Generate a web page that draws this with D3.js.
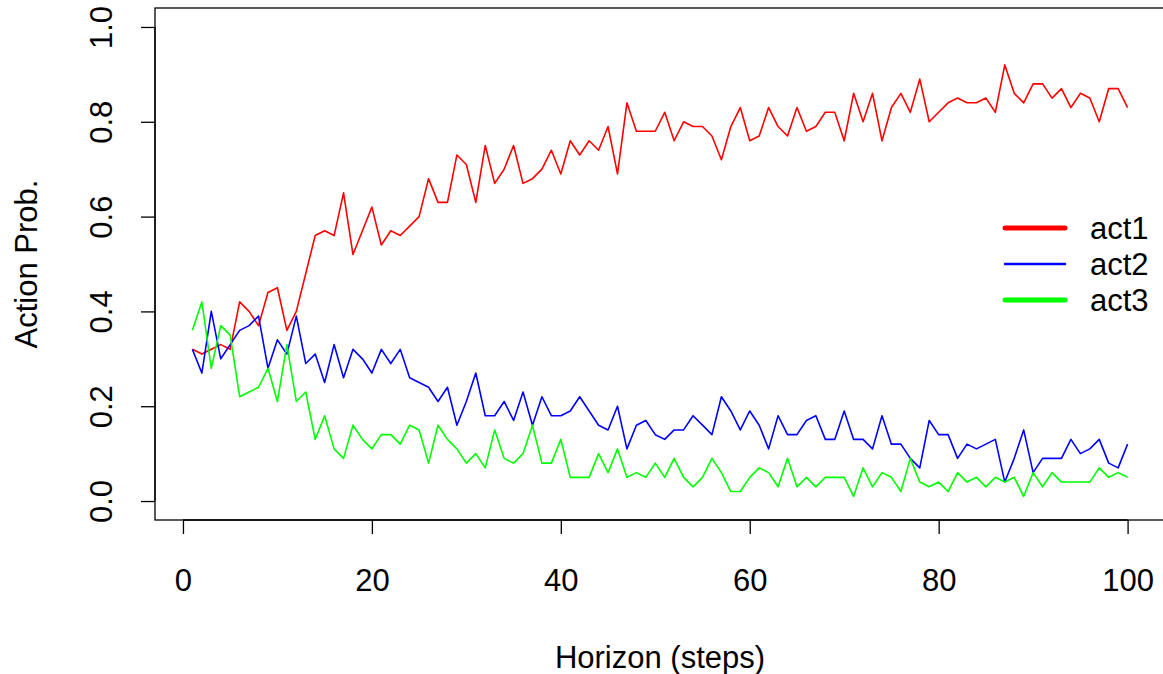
<!DOCTYPE html>
<html>
<head>
<meta charset="utf-8">
<script src="https://cdn.jsdelivr.net/npm/d3@7"></script>
<style>
  body { margin: 0; background: #fff; }
  text { font-family: "Liberation Sans", Arial, sans-serif; fill: #000; }
</style>
</head>
<body>
<svg width="1163" height="674"></svg>
<script>
// horizon steps 1..100
var steps = d3.range(1, 101);

var act1 = [0.32, 0.31, 0.32, 0.33, 0.32, 0.42, 0.40, 0.37, 0.44, 0.45,
            0.36, 0.40, 0.48, 0.56, 0.57, 0.56, 0.65, 0.52, 0.57, 0.62,
            0.54, 0.57, 0.56, 0.58, 0.60, 0.68, 0.63, 0.63, 0.73, 0.71,
            0.63, 0.75, 0.67, 0.70, 0.75, 0.67, 0.68, 0.70, 0.74, 0.69,
            0.76, 0.73, 0.76, 0.74, 0.79, 0.69, 0.84, 0.78, 0.78, 0.78,
            0.82, 0.76, 0.80, 0.79, 0.79, 0.77, 0.72, 0.79, 0.83, 0.76,
            0.77, 0.83, 0.79, 0.77, 0.83, 0.78, 0.79, 0.82, 0.82, 0.76,
            0.86, 0.80, 0.86, 0.76, 0.83, 0.86, 0.82, 0.89, 0.80, 0.82,
            0.84, 0.85, 0.84, 0.84, 0.85, 0.82, 0.92, 0.86, 0.84, 0.88,
            0.88, 0.85, 0.87, 0.83, 0.86, 0.85, 0.80, 0.87, 0.87, 0.83];

var act2 = [0.32, 0.27, 0.40, 0.30, 0.33, 0.36, 0.37, 0.39, 0.28, 0.34,
            0.31, 0.39, 0.29, 0.31, 0.25, 0.33, 0.26, 0.32, 0.30, 0.27,
            0.32, 0.29, 0.32, 0.26, 0.25, 0.24, 0.21, 0.24, 0.16, 0.21,
            0.27, 0.18, 0.18, 0.21, 0.17, 0.23, 0.16, 0.22, 0.18, 0.18,
            0.19, 0.22, 0.19, 0.16, 0.15, 0.20, 0.11, 0.16, 0.17, 0.14,
            0.13, 0.15, 0.15, 0.18, 0.16, 0.14, 0.22, 0.19, 0.15, 0.19,
            0.16, 0.11, 0.18, 0.14, 0.14, 0.17, 0.18, 0.13, 0.13, 0.19,
            0.13, 0.13, 0.11, 0.18, 0.12, 0.12, 0.09, 0.07, 0.17, 0.14,
            0.14, 0.09, 0.12, 0.11, 0.12, 0.13, 0.04, 0.09, 0.15, 0.06,
            0.09, 0.09, 0.09, 0.13, 0.10, 0.11, 0.13, 0.08, 0.07, 0.12];

var act3 = [0.36, 0.42, 0.28, 0.37, 0.35, 0.22, 0.23, 0.24, 0.28, 0.21,
            0.33, 0.21, 0.23, 0.13, 0.18, 0.11, 0.09, 0.16, 0.13, 0.11,
            0.14, 0.14, 0.12, 0.16, 0.15, 0.08, 0.16, 0.13, 0.11, 0.08,
            0.10, 0.07, 0.15, 0.09, 0.08, 0.10, 0.16, 0.08, 0.08, 0.13,
            0.05, 0.05, 0.05, 0.10, 0.06, 0.11, 0.05, 0.06, 0.05, 0.08,
            0.05, 0.09, 0.05, 0.03, 0.05, 0.09, 0.06, 0.02, 0.02, 0.05,
            0.07, 0.06, 0.03, 0.09, 0.03, 0.05, 0.03, 0.05, 0.05, 0.05,
            0.01, 0.07, 0.03, 0.06, 0.05, 0.02, 0.09, 0.04, 0.03, 0.04,
            0.02, 0.06, 0.04, 0.05, 0.03, 0.05, 0.04, 0.05, 0.01, 0.06,
            0.03, 0.06, 0.04, 0.04, 0.04, 0.04, 0.07, 0.05, 0.06, 0.05];

var seriesNames = ["act1", "act2", "act3"];
var seriesColors = ["#ff0000", "#0000ff", "#00ff00"];
var legendWidths = [5, 2.5, 5];

var xTicks = [0, 20, 40, 60, 80, 100];
var yTicks = [0.0, 0.2, 0.4, 0.6, 0.8, 1.0];

var fontSize = 31;

var svg = d3.select("svg");

// R style 4% padding around the data range
var x = d3.scaleLinear().domain([-2.96, 103.96]).range([155, 1165]);
var y = d3.scaleLinear().domain([-0.04, 1.04]).range([520, 8]);

var line = d3.line()
    .x(function (d) { return x(d[0]); })
    .y(function (d) { return y(d[1]); });

var allSeries = [act1, act2, act3];

svg.selectAll(".series")
    .data(allSeries)
    .enter().append("path")
    .attr("class", "series")
    .attr("fill", "none")
    .attr("stroke", function (d, i) { return seriesColors[i]; })
    .attr("stroke-width", 1.6)
    .attr("stroke-linejoin", "round")
    .attr("d", function (vals) {
        return line(steps.map(function (s, i) { return [s, vals[i]]; }));
    });

// frame
svg.append("rect")
    .attr("x", x.range()[0])
    .attr("y", y.range()[1])
    .attr("width", x.range()[1] - x.range()[0])
    .attr("height", y.range()[0] - y.range()[1])
    .attr("fill", "none")
    .attr("stroke", "#000")
    .attr("stroke-width", 1.3);

// x axis
var xAxis = svg.append("g")
    .attr("transform", "translate(0," + y.range()[0] + ")")
    .call(d3.axisBottom(x).tickValues(xTicks).tickSize(14));
xAxis.select(".domain").attr("d", "M" + x(0) + ",0H" + x(100)).attr("stroke-width", 1.3);
xAxis.selectAll(".tick line").attr("stroke-width", 1.3);
xAxis.selectAll("text").attr("font-size", fontSize).attr("dy", "0").attr("y", 71);

// y axis, labels rotated like R's default las=0
var yAxis = svg.append("g")
    .attr("transform", "translate(" + x.range()[0] + ",0)")
    .call(d3.axisLeft(y).tickValues(yTicks).tickSize(14).tickFormat(d3.format(".1f")));
yAxis.select(".domain").attr("d", "M0," + y(0) + "V" + y(1)).attr("stroke-width", 1.3);
yAxis.selectAll(".tick line").attr("stroke-width", 1.3);
yAxis.selectAll("text")
    .attr("font-size", fontSize)
    .attr("x", null).attr("dy", null)
    .attr("text-anchor", "middle")
    .attr("transform", "translate(-43,0) rotate(-90)");

// axis titles
svg.append("text")
    .attr("x", (x.range()[0] + x.range()[1]) / 2)
    .attr("y", 668)
    .attr("text-anchor", "middle")
    .attr("font-size", fontSize)
    .text("Horizon (steps)");

svg.append("text")
    .attr("transform", "translate(37," + y(0.5) + ") rotate(-90)")
    .attr("text-anchor", "middle")
    .attr("font-size", fontSize)
    .text("Action Prob.");

// legend (no box)
var legend = svg.selectAll(".legend")
    .data(seriesNames)
    .enter().append("g")
    .attr("class", "legend")
    .attr("transform", function (d, i) { return "translate(1005," + (228 + i * 36) + ")"; });

legend.append("line")
    .attr("x1", 0).attr("x2", 60)
    .attr("stroke", function (d, i) { return seriesColors[i]; })
    .attr("stroke-width", function (d, i) { return legendWidths[i]; })
    .attr("stroke-linecap", "round");

legend.append("text")
    .attr("x", 85)
    .attr("y", 11)
    .attr("font-size", fontSize)
    .text(function (d) { return d; });
</script>
</body>
</html>
